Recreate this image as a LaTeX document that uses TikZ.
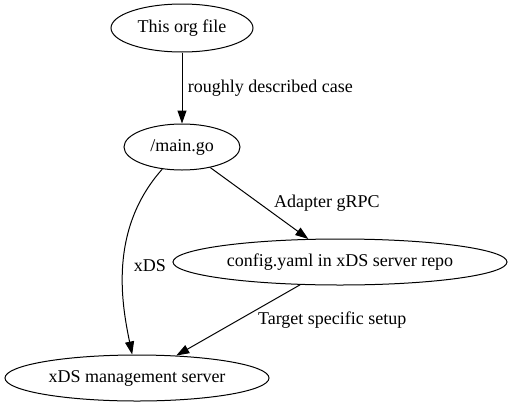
\documentclass[tikz,border=0pt]{standalone}
\usepackage{fontspec}
\setmainfont{Liberation Serif}
\usetikzlibrary{arrows.meta, shapes.geometric}
\tikzset{
    flowgraph/.style={x=1pt, y=-1pt, line width=1pt, font=\fontsize{18}{21}\selectfont},
    state/.style={draw, ellipse, inner sep=0pt, minimum height=46pt},
    edge/.style={-{Triangle[length=13pt, width=9pt]}},
    % edge labels sit to the right of the edge, as graphviz puts them
    lbl/.style={pos=0.5, right},
}
\begin{document}
\begin{tikzpicture}[flowgraph]
        \useasboundingbox (0,0) rectangle (508,407);
        \node[state, minimum width=142pt, minimum height=48pt] (org)  at (182,28)  {This org file};
        \node[state, minimum width=116pt]                      (main) at (182,147) {/main.go};
        \node[state, minimum width=334pt]                      (cfg)  at (340,262) {config.yaml in xDS server repo};
        \node[state, minimum width=264pt]                      (mgmt) at (137,378) {xDS management server};

        \draw[edge] (org) -- node[lbl, xshift=2pt] {roughly described case} (main);
        \draw[edge] (main) -- node[lbl, xshift=11pt] {Adapter gRPC} (cfg);
        \draw[edge] (main) .. controls (108,230) and (122,305) .. node[lbl, xshift=7pt] {xDS} (mgmt);
        \draw[edge] (cfg) -- node[lbl, xshift=16pt] {Target specific setup} (mgmt);
    \end{tikzpicture}
\end{document}
